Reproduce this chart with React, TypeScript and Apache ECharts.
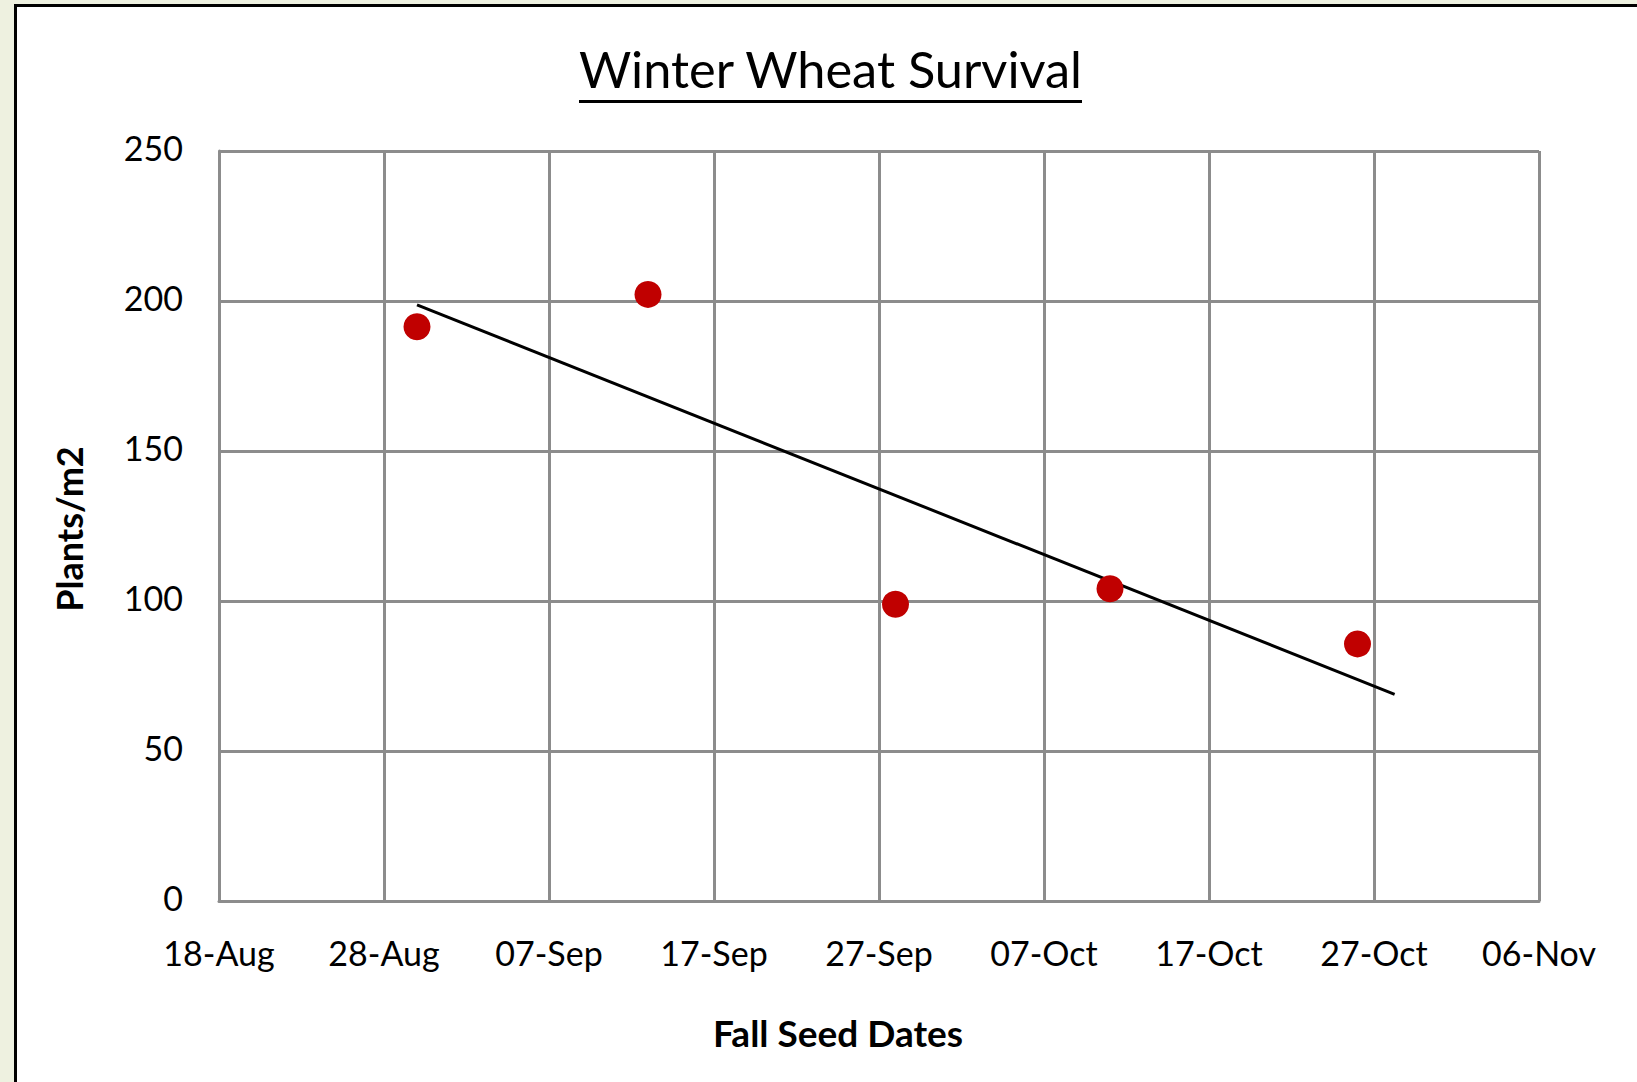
import React, { useEffect, useRef } from "react";
import * as echarts from "echarts";

const START_DATE = "2023-08-18T00:00:00Z";
const seedDates = ["2023-08-30", "2023-09-13", "2023-09-28", "2023-10-11", "2023-10-26"];
const plantsPerM2 = [191.4, 202.2, 98.9, 104.1, 85.7];
const trendDates = ["2023-08-30T00:00:00Z", "2023-10-28T06:00:00Z"];
const trendValues = [198.7, 68.9];
const xTickCount = 8; // 18-Aug .. 06-Nov every 10 days
const MONTHS = ["Jan", "Feb", "Mar", "Apr", "May", "Jun", "Jul", "Aug", "Sep", "Oct", "Nov", "Dec"];

const DAY = 86400000;
const t0 = Date.parse(START_DATE);
const dayOffset = (d: string) =>
  (Date.parse(d.length === 10 ? d + "T00:00:00Z" : d) - t0) / DAY;
const fmtDay = (v: number) => {
  const d = new Date(t0 + v * DAY);
  const dd = String(d.getUTCDate()).padStart(2, "0");
  return dd + "-" + MONTHS[d.getUTCMonth()];
};

const FONT = "Lato";
const GRID_COLOR = "#8c8c8c";

export default function App() {
  const ref = useRef<HTMLDivElement>(null);
  useEffect(() => {
    if (!ref.current) return;
    const chart = echarts.init(ref.current, undefined, { renderer: "svg" });
    chart.setOption({
      animation: false,
      backgroundColor: "#eef1e0",
      textStyle: { fontFamily: FONT },
      graphic: [
        { type: "rect", shape: { x: 14, y: 4, width: 1700, height: 1200 }, style: { fill: "#000" }, z: -10 },
        { type: "rect", shape: { x: 17, y: 7, width: 1700, height: 1200 }, style: { fill: "#fff" }, z: -9 },
        {
          type: "text",
          x: 830.5,
          y: 68,
          style: {
            text: "Winter Wheat Survival",
            font: `50.5px ${FONT}`,
            fill: "#000",
            align: "center",
            verticalAlign: "middle",
          },
        },
        {
          type: "line",
          shape: { x1: 579, y1: 101.5, x2: 1082, y2: 101.5 },
          style: { stroke: "#000", lineWidth: 3 },
        },
        {
          type: "text",
          x: 838,
          y: 1032,
          style: {
            text: "Fall Seed Dates",
            font: `bold 37px ${FONT}`,
            fill: "#000",
            align: "center",
            verticalAlign: "middle",
          },
        },
        {
          type: "text",
          x: 69,
          y: 529,
          rotation: Math.PI / 2,
          style: {
            text: "Plants/m2",
            font: `bold 36px ${FONT}`,
            fill: "#000",
            align: "center",
            verticalAlign: "middle",
          },
        },
      ],
      grid: { left: 219, top: 151, right: 98, bottom: 181 },
      xAxis: {
        type: "value",
        min: 0,
        max: xTickCount * 10,
        interval: 10,
        axisLine: { show: true, lineStyle: { color: GRID_COLOR, width: 3 } },
        axisTick: { show: false },
        splitLine: { show: true, lineStyle: { color: GRID_COLOR, width: 3 } },
        axisLabel: {
          formatter: (v: number) => fmtDay(v),
          fontFamily: FONT,
          fontSize: 34,
          color: "#000",
          margin: 34,
        },
      },
      yAxis: {
        type: "value",
        min: 0,
        max: 250,
        interval: 50,
        axisLine: { show: true, lineStyle: { color: GRID_COLOR, width: 3 } },
        axisTick: { show: false },
        splitLine: { show: true, lineStyle: { color: GRID_COLOR, width: 3 } },
        axisLabel: {
          fontFamily: FONT,
          fontSize: 34,
          color: "#000",
          margin: 36,
          verticalAlign: "bottom",
          lineHeight: 8,
        },
      },
      series: [
        {
          type: "line",
          data: trendDates.map((d, i) => [dayOffset(d), trendValues[i]]),
          showSymbol: false,
          symbol: "none",
          lineStyle: { color: "#000", width: 3 },
          z: 2,
          silent: true,
        },
        {
          type: "scatter",
          data: seedDates.map((d, i) => [dayOffset(d), plantsPerM2[i]]),
          symbol: "circle",
          symbolSize: 27,
          itemStyle: { color: "#c00000", opacity: 1 },
          z: 3,
        },
      ],
    });
    return () => chart.dispose();
  }, []);
  return (
    <div
      ref={ref}
      style={{ position: "fixed", left: 0, top: 0, width: 1637, height: 1082 }}
    />
  );
}
